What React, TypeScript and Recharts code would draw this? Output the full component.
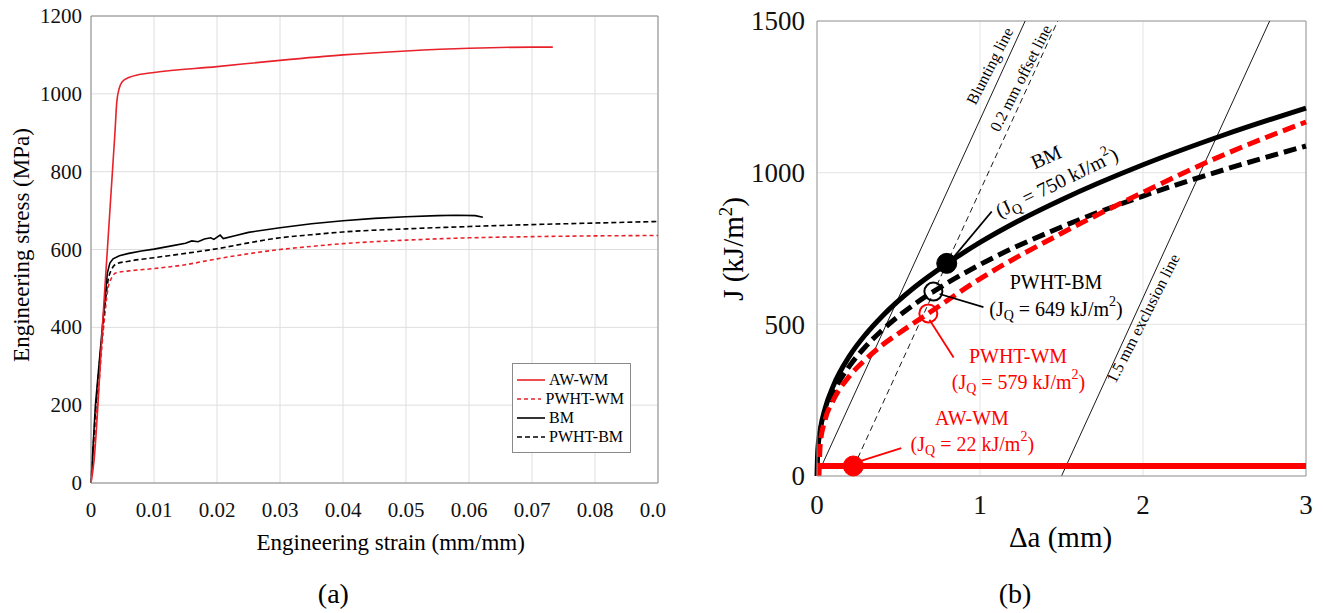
import React from 'react';
import {
  LineChart,
  Line,
  XAxis,
  YAxis,
  CartesianGrid,
  ReferenceLine,
  ReferenceDot,
  Legend,
} from 'recharts';

const SERIF = '"Liberation Serif", "Times New Roman", "DejaVu Serif", serif';
const RED_A = '#e8222a';
const RED_B = '#ff0000';

// ---------------- Panel (a): engineering stress-strain ----------------
const strainTicks = [0, 0.01, 0.02, 0.03, 0.04, 0.05, 0.06, 0.07, 0.08, 0.09];
// the last strain label is cut at the figure edge in the reference, where it reads "0.0"
const strainTickLabels = ['0', '0.01', '0.02', '0.03', '0.04', '0.05', '0.06', '0.07', '0.08', '0.0'];
const stressTicks = [0, 200, 400, 600, 800, 1000, 1200];

const AW_WM_A: [number, number][] = [
  [0, 0], [0.0005, 60], [0.0011, 200], [0.0018, 400], [0.0026, 600], [0.0034, 800],
  [0.0038, 900], [0.0041, 980], [0.0045, 1015], [0.005, 1032], [0.006, 1042],
  [0.0075, 1049], [0.01, 1055], [0.02, 1070], [0.03, 1086], [0.04, 1100],
  [0.05, 1110], [0.06, 1117], [0.07, 1120], [0.0733, 1120],
];
const PWHT_WM_A: [number, number][] = [
  [0, 0], [0.001, 200], [0.002, 400], [0.0027, 500], [0.0033, 528], [0.004, 540],
  [0.006, 545], [0.01, 551], [0.015, 561], [0.02, 576], [0.025, 589], [0.03, 600],
  [0.035, 608], [0.04, 615], [0.05, 624], [0.06, 630], [0.07, 633], [0.08, 635], [0.09, 636],
];
const BM_A: [number, number][] = [
  [0, 0], [0.0007, 200], [0.0018, 400], [0.0026, 540], [0.003, 565], [0.0035, 576],
  [0.0045, 584], [0.006, 590], [0.008, 596], [0.01, 601], [0.013, 610], [0.015, 616],
  [0.016, 622], [0.017, 620], [0.018, 627], [0.019, 630], [0.0195, 626], [0.0205, 637],
  [0.021, 628], [0.023, 636], [0.025, 644], [0.03, 656], [0.035, 666], [0.04, 674],
  [0.045, 680], [0.05, 684], [0.055, 687], [0.058, 688], [0.061, 687], [0.0622, 683],
];
const PWHT_BM_A: [number, number][] = [
  [0, 0], [0.0008, 200], [0.0019, 400], [0.0027, 520], [0.0033, 550], [0.004, 563],
  [0.006, 570], [0.01, 579], [0.015, 590], [0.02, 602], [0.025, 617], [0.03, 630],
  [0.035, 638], [0.04, 645], [0.05, 653], [0.06, 659], [0.07, 664], [0.08, 668], [0.09, 672],
];

const legendItemsA = [
  { name: 'AW-WM', color: RED_A, dash: '' },
  { name: 'PWHT-WM', color: RED_A, dash: '4 3' },
  { name: 'BM', color: '#000', dash: '' },
  { name: 'PWHT-BM', color: '#000', dash: '5 3' },
];

// ---------------- Panel (b): J-R curves ----------------
const daTicks = [0, 1, 2, 3];
const jTicks = [0, 500, 1000, 1500];

const BM_B: [number, number][] = [
  [0, 0], [0.005, 86], [0.02, 152], [0.05, 223], [0.1, 297], [0.2, 396], [0.3, 468],
  [0.4, 527], [0.6, 623], [0.8, 701], [1, 770], [1.25, 845], [1.5, 911], [2, 1026],
  [2.5, 1125], [3, 1213],
];
const PWHT_BM_B: [number, number][] = [
  [0.005, 0], [0.01, 75], [0.02, 143], [0.05, 207], [0.1, 274], [0.2, 363], [0.3, 428],
  [0.4, 481], [0.6, 567], [0.714, 608], [1, 697], [1.5, 821], [2, 923], [2.5, 1010], [3, 1088],
];
const PWHT_WM_B: [number, number][] = [
  [0.012, 0], [0.02, 105], [0.05, 186], [0.1, 250], [0.2, 330], [0.3, 385], [0.387, 426],
  [0.5, 470], [0.683, 536], [1, 650], [1.5, 800], [2, 935], [2.5, 1060], [3, 1167],
];
const AW_WM_B: [number, number][] = [[0.01, 33], [3, 33]];

const BLUNTING: [number, number][] = [[0, 0], [1.277, 1500]];
const OFFSET_02: [number, number][] = [[0.25, 59], [1.477, 1500]];
const EXCLUSION_15: [number, number][] = [[1.5, 0], [2.777, 1500]];

// J_Q points: [Δa, J]
const JQ_BM: [number, number] = [0.796, 701];
const JQ_PWHT_BM: [number, number] = [0.714, 608];
const JQ_PWHT_WM: [number, number] = [0.683, 536];
const JQ_AW_WM: [number, number] = [0.223, 33];

// leader lines from label to point: [[x1,y1],[x2,y2]]
const leaders: { pts: [number, number][]; color: string }[] = [
  { pts: [[1.072, 872], [0.833, 718]], color: '#000' },
  { pts: [[1.021, 557], [0.752, 600]], color: '#000' },
  { pts: [[0.838, 391], [0.69, 515]], color: RED_B },
  { pts: [[0.517, 92], [0.26, 48]], color: RED_B },
];

type Ann = { x: number; y: number; text: string; jq?: string; angle: number; color: string; size: number };
const annotations: Ann[] = [
  { x: 1.06, y: 1352, text: 'Blunting line', angle: -63, color: '#000', size: 16 },
  { x: 1.25, y: 1312, text: '0.2 mm offset line', angle: -63, color: '#000', size: 16 },
  { x: 2.0, y: 520, text: '1.5 mm exclusion line', angle: -63, color: '#000', size: 16 },
  { x: 1.405, y: 1052, text: 'BM', angle: -24, color: '#000', size: 20 },
  { x: 1.47, y: 968, text: '', jq: '750', angle: -26, color: '#000', size: 20 },
  { x: 1.466, y: 638, text: 'PWHT-BM', angle: 0, color: '#000', size: 20 },
  { x: 1.466, y: 549, text: '', jq: '649', angle: 0, color: '#000', size: 20 },
  { x: 1.233, y: 397, text: 'PWHT-WM', angle: 0, color: RED_B, size: 20 },
  { x: 1.236, y: 311, text: '', jq: '579', angle: 0, color: RED_B, size: 20 },
  { x: 0.95, y: 192, text: 'AW-WM', angle: 0, color: RED_B, size: 20 },
  { x: 0.953, y: 106, text: '', jq: '22', angle: 0, color: RED_B, size: 20 },
];

const toXY = (pts: [number, number][]) => pts.map(([x, y]) => ({ x, y }));

function AnnLabel({ cx, cy, a }: { cx: number; cy: number; a: Ann }) {
  const s = a.size;
  const sub = Math.round(s * 0.28);
  const sup = Math.round(s * 0.4);
  return (
    <text
      x={cx}
      y={cy}
      textAnchor="middle"
      dominantBaseline="central"
      fontFamily={SERIF}
      fontSize={s}
      fill={a.color}
      style={{ fontFamily: SERIF }}
      transform={a.angle ? `rotate(${a.angle} ${cx} ${cy})` : undefined}
    >
      {a.jq ? (
        <>
          <tspan>(J</tspan>
          <tspan dy={sub} fontSize={s * 0.7}>Q</tspan>
          <tspan dy={-sub}>{` = ${a.jq} kJ/m`}</tspan>
          <tspan dy={-sup} fontSize={s * 0.7}>2</tspan>
          <tspan dy={sup}>)</tspan>
        </>
      ) : (
        a.text
      )}
    </text>
  );
}

// custom tick renderers (explicit serif font)
const makeXTick = (size: number, gap: number, labels?: string[], ticks?: number[]) => (p: any) => {
  const v = p.payload?.value;
  let label = String(v);
  let anchor: 'middle' | 'start' = 'middle';
  let x = p.x;
  if (labels && ticks) {
    const i = ticks.indexOf(v);
    label = i >= 0 ? labels[i] : String(v);
    if (i === ticks.length - 1) {
      anchor = 'start';
      x = p.x - size * 0.875;
    }
  }
  return (
    <text
      x={x}
      y={p.y + gap}
      textAnchor={anchor}
      fill="#111"
      dy="0.71em"
      style={{ fontFamily: SERIF, fontSize: size }}
    >
      {label}
    </text>
  );
};
const makeYTick = (size: number, gap: number) => (p: any) => (
  <text
    x={p.x - gap}
    y={p.y}
    textAnchor="end"
    fill="#111"
    dy="0.34em"
    style={{ fontFamily: SERIF, fontSize: size }}
  >
    {String(p.payload?.value)}
  </text>
);

function LegendA() {
  return (
    <div
      style={{
        border: '1px solid #8a8a8a',
        background: '#fff',
        padding: '6px 6px 6px 4px',
        fontFamily: SERIF,
        fontSize: 16,
        color: '#000',
        lineHeight: '19px',
        boxSizing: 'border-box',
        width: 119,
      }}
    >
      {legendItemsA.map((it) => (
        <div key={it.name} style={{ display: 'flex', alignItems: 'center', whiteSpace: 'nowrap' }}>
          <svg width={28} height={10} style={{ marginRight: 4 }}>
            <line x1={0} y1={5} x2={28} y2={5} stroke={it.color} strokeWidth={1.6} strokeDasharray={it.dash || undefined} />
          </svg>
          <span>{it.name}</span>
        </div>
      ))}
    </div>
  );
}

const abs = (style: React.CSSProperties): React.CSSProperties => ({ position: 'absolute', whiteSpace: 'nowrap', lineHeight: 1, fontFamily: SERIF, color: '#000', ...style });

export default function App() {
  return (
    <div style={{ position: 'absolute', left: 0, top: 0, width: 1323, height: 613, background: '#fff', overflow: 'hidden', fontFamily: SERIF }}>
      {/* ---------- Panel (a) ---------- */}
      <div style={{ position: 'absolute', left: 0, top: 0, width: 670, height: 613 }}>
        <LineChart width={670} height={613} margin={{ top: 16, right: 12, bottom: 90, left: 31 }} style={{ fontFamily: SERIF }}>
          <CartesianGrid stroke="#dedede" strokeWidth={1} />
          <XAxis
            type="number"
            dataKey="x"
            domain={[0, 0.09]}
            ticks={strainTicks}
            interval={0}
            height={40}
            tickSize={0}
            axisLine={{ stroke: '#8a8a8a' }}
            tick={makeXTick(21, 17, strainTickLabels, strainTicks)}
          />
          <YAxis
            type="number"
            dataKey="y"
            domain={[0, 1200]}
            ticks={stressTicks}
            interval={0}
            width={60}
            tickSize={0}
            axisLine={{ stroke: '#8a8a8a' }}
            tick={makeYTick(21, 7)}
          />
          <ReferenceLine y={1200} stroke="#8a8a8a" />
          <ReferenceLine x={0.09} stroke="#8a8a8a" />
          <Line data={toXY(PWHT_BM_A)} dataKey="y" name="PWHT-BM" type="monotone" stroke="#000" strokeWidth={1.6} strokeDasharray="5 3" dot={false} isAnimationActive={false} />
          <Line data={toXY(PWHT_WM_A)} dataKey="y" name="PWHT-WM" type="monotone" stroke={RED_A} strokeWidth={1.6} strokeDasharray="4 3" dot={false} isAnimationActive={false} />
          <Line data={toXY(BM_A)} dataKey="y" name="BM" type="linear" stroke="#000" strokeWidth={1.6} dot={false} isAnimationActive={false} />
          <Line data={toXY(AW_WM_A)} dataKey="y" name="AW-WM" type="monotone" stroke={RED_A} strokeWidth={1.6} dot={false} isAnimationActive={false} />
          <Legend
            layout="vertical"
            align="center"
            verticalAlign="middle"
            content={() => <LegendA />}
            wrapperStyle={{ left: 512, top: 363, width: 119, height: 89 }}
          />
        </LineChart>
      </div>
      <div style={abs({ left: 20.5, top: 244.7, fontSize: 23, transform: 'translate(-50%, -50%) rotate(-90deg)' })}>
        Engineering stress (MPa)
      </div>
      <div style={abs({ left: 390.7, top: 541.6, fontSize: 23, transform: 'translate(-50%, -50%)' })}>
        Engineering strain (mm/mm)
      </div>
      <div style={abs({ left: 333.4, top: 594, fontSize: 28, transform: 'translate(-50%, -50%)' })}>(a)</div>

      {/* ---------- Panel (b) ---------- */}
      <div style={{ position: 'absolute', left: 680, top: 0, width: 643, height: 613 }}>
        <LineChart width={643} height={613} margin={{ top: 21, right: 17, bottom: 97, left: 67 }} style={{ fontFamily: SERIF }}>
          <CartesianGrid stroke="#e4e4e4" strokeWidth={1} />
          <XAxis
            type="number"
            dataKey="x"
            domain={[0, 3]}
            ticks={daTicks}
            interval={0}
            height={40}
            tickSize={0}
            axisLine={{ stroke: '#9a9a9a' }}
            tick={makeXTick(27, 17)}
          />
          <YAxis
            type="number"
            dataKey="y"
            domain={[0, 1500]}
            ticks={jTicks}
            interval={0}
            width={70}
            tickSize={0}
            axisLine={{ stroke: '#9a9a9a' }}
            tick={makeYTick(27, 10)}
          />
          <ReferenceLine y={1500} stroke="#9a9a9a" />
          <ReferenceLine x={3} stroke="#9a9a9a" />
          <Line data={toXY(BLUNTING)} dataKey="y" type="linear" stroke="#000" strokeWidth={0.9} dot={false} isAnimationActive={false} />
          <Line data={toXY(OFFSET_02)} dataKey="y" type="linear" stroke="#000" strokeWidth={0.9} strokeDasharray="6 4" dot={false} isAnimationActive={false} />
          <Line data={toXY(EXCLUSION_15)} dataKey="y" type="linear" stroke="#000" strokeWidth={0.9} dot={false} isAnimationActive={false} />
          <Line data={toXY(BM_B)} dataKey="y" type="monotone" stroke="#000" strokeWidth={5} dot={false} isAnimationActive={false} />
          <Line data={toXY(PWHT_BM_B)} dataKey="y" type="monotone" stroke="#000" strokeWidth={5} strokeDasharray="13 6" dot={false} isAnimationActive={false} />
          <Line data={toXY(PWHT_WM_B)} dataKey="y" type="monotone" stroke={RED_B} strokeWidth={5} strokeDasharray="13 6" dot={false} isAnimationActive={false} />
          <Line data={toXY(AW_WM_B)} dataKey="y" type="linear" stroke={RED_B} strokeWidth={6} dot={false} isAnimationActive={false} />
          {leaders.map((l, i) => (
            <ReferenceLine
              key={`ld${i}`}
              segment={[{ x: l.pts[0][0], y: l.pts[0][1] }, { x: l.pts[1][0], y: l.pts[1][1] }]}
              stroke={l.color}
              strokeWidth={1.8}
              ifOverflow="visible"
            />
          ))}
          <ReferenceDot x={JQ_BM[0]} y={JQ_BM[1]} r={10} fill="#000" stroke="#000" />
          <ReferenceDot x={JQ_PWHT_BM[0]} y={JQ_PWHT_BM[1]} r={9} fill="none" stroke="#000" strokeWidth={2} />
          <ReferenceDot x={JQ_PWHT_WM[0]} y={JQ_PWHT_WM[1]} r={9} fill="none" stroke={RED_B} strokeWidth={2} />
          <ReferenceDot x={JQ_AW_WM[0]} y={JQ_AW_WM[1]} r={10} fill={RED_B} stroke={RED_B} />
          {annotations.map((a, i) => (
            <ReferenceDot
              key={`an${i}`}
              x={a.x}
              y={a.y}
              r={1}
              ifOverflow="visible"
              shape={(p: any) => <AnnLabel cx={p.cx} cy={p.cy} a={a} />}
            />
          ))}
        </LineChart>
      </div>
      <div style={abs({ left: 733, top: 248.5, fontSize: 29, transform: 'translate(-50%, -50%) rotate(-90deg)' })}>
        J (kJ/m<span style={{ fontSize: '0.65em', position: 'relative', top: '-0.6em' }}>2</span>)
      </div>
      <div style={abs({ left: 1060.5, top: 537, fontSize: 29, transform: 'translate(-50%, -50%)' })}>Δa (mm)</div>
      <div style={abs({ left: 1015, top: 594, fontSize: 28, transform: 'translate(-50%, -50%)' })}>(b)</div>
    </div>
  );
}
